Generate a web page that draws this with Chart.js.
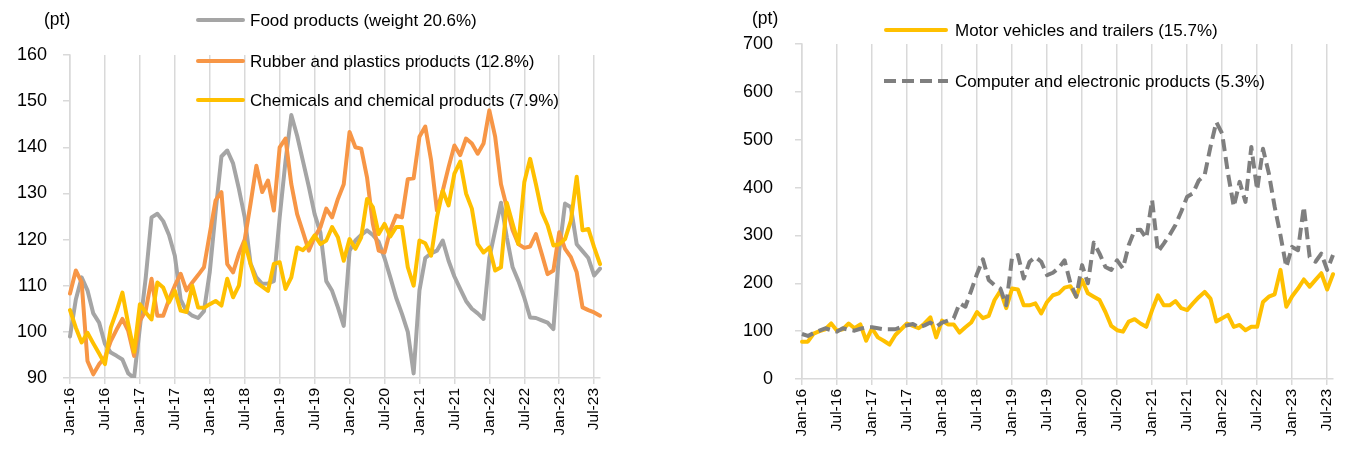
<!DOCTYPE html>
<html><head><meta charset="utf-8">
<script src="https://cdn.jsdelivr.net/npm/chart.js@4.4.0/dist/chart.umd.min.js"></script>
<style>
html,body{margin:0;padding:0;background:#fff;}
body{width:1354px;height:452px;position:relative;overflow:hidden;font-family:"Liberation Sans",Arial,sans-serif;}
.box{position:absolute;top:0;height:452px;width:677px;}
.unit{position:absolute;font-size:17.5px;color:#000;line-height:1;}
.leg{position:absolute;display:flex;align-items:center;font-size:17px;color:#000;white-space:nowrap;line-height:1;height:20px;}
.leg .sw{display:inline-block;height:4px;border-radius:2px;}
</style></head><body>
<div class="box" id="lb"><canvas id="c1"></canvas></div>
<div class="box" id="rb" style="left:677px"><canvas id="c2"></canvas></div>
<div class="unit" style="left:44px;top:11px">(pt)</div>
<div class="unit" style="left:752px;top:10px">(pt)</div>
<div id="legends"></div>
<script>
// ---- categories (monthly, Jan-16 .. Aug-23) ----
const monthNames = ["Jan","Feb","Mar","Apr","May","Jun","Jul","Aug","Sep","Oct","Nov","Dec"];
const years = ["16","17","18","19","20","21","22","23"];
const lastMonthIndex2023 = 7; // Aug-23
const categories = [];
years.forEach((y, yi) => {
  monthNames.forEach((m, mi) => {
    if (yi < years.length - 1 || mi <= lastMonthIndex2023) categories.push(m + "-" + y);
  });
});
const shownTickMonths = ["Jan", "Jul"];

// ---- left chart series ----
const foodProducts = [99,107,111.8,109,104,102,97.4,95.5,94.8,94,91,90,
  101,111.7,124.8,125.6,124,121,116.5,107,104.5,103.5,103,104.5,
  113,126,138,139.3,136.5,131,124.8,114.8,111.8,110.4,110.5,111,
  124.8,137,147,142.5,137,131.5,125.5,121.5,111,108.9,105.3,101.3,
  117.6,119.8,121,122,121,119.5,116,111.8,107.4,103.9,100,91,
  109,116,117,117.6,119.8,115.4,112,109.3,106.7,105,104,102.8,
  116,122,128,120.5,114,111,107.4,103.1,103,102.5,102,100.6,
  117.6,127.8,127,119,117.5,116,112.2,113.7];
const rubberPlastics = [108.3,113.3,110.7,93.7,90.8,93,94.4,98,100.5,102.8,100.2,94.8,
  102.4,104.6,111.5,103.5,103.5,107,110,112.6,109,110.7,112.3,114,
  121.3,128.5,130.3,114.7,112.9,116.9,120,127.8,136,130.3,132.8,126.3,
  140,141.9,132,125.5,121.6,117.6,120.5,122.7,126.7,124.8,128.8,132,
  143.3,140,139.7,133.5,123.4,117.6,117.2,122,125.2,124.8,133.1,133.3,
  142.3,144.5,137.2,126.3,130.6,135.7,140.4,138.3,141.9,140.8,138.6,140.8,
  148,142.3,132,127,122,119,118.2,118.5,121.2,116.9,112.5,113.3,
  121.6,118,116.2,112.9,105.3,104.7,104.2,103.5];
const chemicals = [104.7,100.9,97.7,99.8,97.5,95.3,93,100.9,104.5,108.5,101.7,95.7,
  106,104.2,102.7,110.7,109.6,106.4,108.9,104.6,104.3,110,105.3,105.2,
  106,106.7,105.7,111.5,107.5,110,119.4,114.7,110.7,109.8,108.9,114.7,
  115.1,109.3,111.8,118.3,117.7,119,120.9,119,119.8,122.7,120.5,115.4,
  120.1,118,120.5,128.8,127,121.2,123.4,120.7,122.7,122.7,114,110,
  119.8,119.2,116.5,124.8,130.6,127.4,134.3,136.9,130,126.7,119,117.2,
  118.3,113.3,114,128,123.4,119,132.4,137.5,132,126,123.1,118.7,
  119,120.1,124.1,133.6,122,122.3,118.3,114.7];

// ---- right chart series ----
const motorVehicles = [78,78,95,100,104,116,101,104,116,106,114,80,
  106,87,80,72,92,104,116,111,106,116,129,87,
  122,114,114,97,108,118,140,127,132,165,184,148,
  189,187,154,154,158,137,161,175,179,191,194,172,
  207,179,172,165,140,111,102,99,120,125,116,109,
  144,175,154,154,163,148,144,158,171,182,168,120,
  127,134,109,113,102,109,109,161,172,177,228,151,
  173,189,208,193,207,221,187,219];
const computerElectronic = [94,90,96,101,106,102,99,106,103,101,105,108,
  108,106,104,104,104,109,112,115,108,112,118,109,
  118,122,127,158,151,185,220,250,207,196,189,154,
  255,259,210,245,255,245,217,222,232,248,200,172,
  238,200,285,262,234,228,248,231,280,311,312,294,
  374,266,283,301,322,350,381,388,415,426,485,537,
  513,430,360,412,370,485,395,481,430,360,300,234,
  276,269,360,255,245,262,228,259];

const leftTicks = [90,100,110,120,130,140,150,160];
const rightTicks = [0,100,200,300,400,500,600,700];

const FONT = '"Liberation Sans", Arial, sans-serif';
const GRID = '#d9d9d9';
const COL = {food:'#a5a5a5', rubber:'#f79646', chem:'#ffc000', motor:'#ffc000', comp:'#7f7f7f'};

function xScale(axisHeight){
  return {
    type:'category', offset:false,
    grid:{display:true, drawOnChartArea:true, drawTicks:true, tickLength:6, color:GRID, lineWidth:1.5},
    border:{display:true, color:GRID, width:1.5},
    ticks:{autoSkip:false, maxRotation:90, minRotation:90, padding:4, color:'#000',
      font:{size:15.5, family:FONT},
      callback:function(v){ const l = this.getLabelForValue(v); return shownTickMonths.includes(l.slice(0,3)) ? l : null; }},
    afterFit:(s)=>{ s.height = axisHeight; }
  };
}
function yScale(ticksArr, width, pad){
  return {
    min:ticksArr[0], max:ticksArr[ticksArr.length-1],
    afterBuildTicks:(s)=>{ s.ticks = ticksArr.map(v=>({value:v})); },
    grid:{drawOnChartArea:false, drawTicks:true, tickLength:7, color:GRID, lineWidth:1.5},
    border:{display:true, color:GRID, width:1.5},
    ticks:{padding:pad, color:'#000', font:{size:18, family:FONT}},
    afterFit:(s)=>{ s.width = width; }
  };
}
function ds(label, data, color, order, dash){
  return {label, data, borderColor:color, backgroundColor:color, borderWidth:4, pointRadius:0,
    tension:0, fill:false, order, borderDash:dash||[], borderJoinStyle:'round', borderCapStyle:dash?'butt':'round'};
}
const common = {responsive:true, maintainAspectRatio:false, animation:false, events:[],
  plugins:{legend:{display:false}, tooltip:{enabled:false}}};

const chart1 = new Chart(document.getElementById('c1'), {
  type:'line',
  data:{labels:categories, datasets:[
    ds('Food products (weight 20.6%)', foodProducts, COL.food, 3),
    ds('Rubber and plastics products (12.8%)', rubberPlastics, COL.rubber, 2),
    ds('Chemicals and chemical products (7.9%)', chemicals, COL.chem, 1)
  ]},
  options:Object.assign({}, common, {
    layout:{padding:{top:55, left:0, right:77, bottom:0}},
    scales:{x:xScale(74), y:yScale(leftTicks, 70, 16)}
  })
});
const chart2 = new Chart(document.getElementById('c2'), {
  type:'line',
  data:{labels:categories, datasets:[
    ds('Motor vehicles and trailers (15.7%)', motorVehicles, COL.motor, 2),
    ds('Computer and electronic products (5.3%)', computerElectronic, COL.comp, 1, [12,6])
  ]},
  options:Object.assign({}, common, {
    layout:{padding:{top:44, left:0, right:21, bottom:0}},
    scales:{x:xScale(73), y:yScale(rightTicks, 125, 22)}
  })
});

// ---- legends (HTML, built from datasets) ----
function addLegend(chart, x, swW, textX, rowsY){
  const host = document.getElementById('legends');
  chart.data.datasets.forEach((d, i) => {
    const row = document.createElement('div');
    row.className = 'leg';
    row.style.left = x + 'px';
    row.style.top = (rowsY[i] - 10) + 'px';
    const sw = document.createElement('span');
    sw.className = 'sw';
    sw.style.width = swW + 'px';
    sw.style.marginRight = (textX - x - swW) + 'px';
    if (d.borderDash && d.borderDash.length) {
      sw.style.borderRadius = '0';
      sw.style.background = 'repeating-linear-gradient(90deg,' + d.borderColor + ' 0 ' + d.borderDash[0] + 'px, transparent ' + d.borderDash[0] + 'px ' + (d.borderDash[0]+d.borderDash[1]) + 'px)';
    } else {
      sw.style.background = d.borderColor;
    }
    const tx = document.createElement('span');
    tx.textContent = d.label;
    row.appendChild(sw); row.appendChild(tx);
    host.appendChild(row);
  });
}
addLegend(chart1, 196, 49, 250, [20, 61, 100]);
addLegend(chart2, 884, 64, 955, [30, 81]);
</script>
</body></html>
